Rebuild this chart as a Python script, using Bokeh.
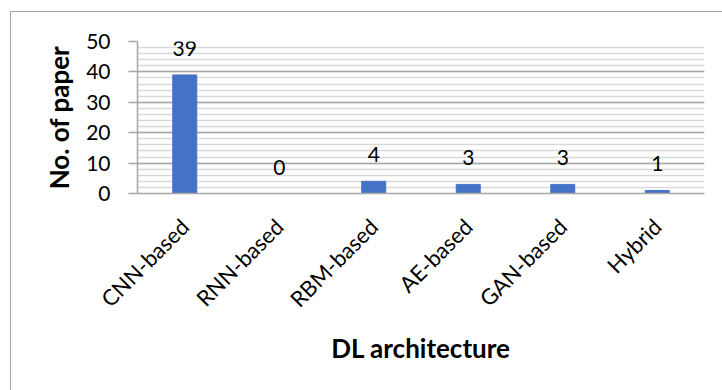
import math
from bokeh.plotting import figure
from bokeh.models import ColumnDataSource, SingleIntervalTicker, LabelSet
from bokeh.core.properties import value
from bokeh.embed import file_html
from bokeh.resources import INLINE

categories = ["CNN-based", "RNN-based", "RBM-based", "AE-based", "GAN-based", "Hybrid"]
papers = [39, 0, 4, 3, 3, 1]

FONT = "Lato"
source = ColumnDataSource(dict(cat=categories, n=papers, lbl=[str(v) for v in papers]))

p = figure(x_range=categories, y_range=(0, 50), width=711, height=378,
           output_backend="svg", toolbar_location=None,
           min_border_left=126, min_border_right=18, min_border_top=29, min_border_bottom=197,
           margin=(11, 0, 0, 10))
p.frame_width = 567
p.frame_height = 152
p.styles = {"border-left": "1px solid #a6a6a6", "border-top": "1px solid #a6a6a6"}
p.outline_line_color = None
p.background_fill_color = "white"
p.border_fill_color = "white"

p.vbar(x="cat", top="n", width=0.254, source=source, color="#4472C4")

labels = LabelSet(x="cat", y="n", text="lbl", source=source, text_align="center",
                  text_baseline="alphabetic", y_offset=19, text_font=value(FONT),
                  text_font_size="21px", text_color="black")
p.add_layout(labels)

# y axis
p.yaxis.ticker = SingleIntervalTicker(interval=10, num_minor_ticks=5)
p.yaxis.axis_label = "No. of paper"
p.yaxis.axis_label_text_font = FONT
p.yaxis.axis_label_text_font_style = "bold"
p.yaxis.axis_label_text_font_size = "26px"
p.yaxis.axis_label_text_color = "black"
p.yaxis.axis_label_standoff = 8
p.yaxis.major_label_text_font = FONT
p.yaxis.major_label_text_font_size = "21px"
p.yaxis.major_label_text_color = "black"
p.yaxis.major_label_standoff = 18
p.yaxis.major_tick_out = 9
p.yaxis.major_tick_in = 0
p.yaxis.minor_tick_line_color = None
p.yaxis.axis_line_color = "#a6a6a6"
p.yaxis.major_tick_line_color = "#a6a6a6"
p.yaxis.axis_line_width = 1.5
p.yaxis.major_tick_line_width = 1.5

# x axis
p.xaxis.axis_label = "DL architecture"
p.xaxis.axis_label_text_font = FONT
p.xaxis.axis_label_text_font_style = "bold"
p.xaxis.axis_label_text_font_size = "26px"
p.xaxis.axis_label_text_color = "black"
p.xaxis.axis_label_standoff = 7
p.xaxis.major_label_orientation = math.pi / 4
p.xaxis.major_label_text_font = FONT
p.xaxis.major_label_text_font_size = "22px"
p.xaxis.major_label_text_color = "black"
p.xaxis.major_label_standoff = 29
p.xaxis.major_tick_line_color = None
p.xaxis.major_tick_out = 0
p.xaxis.axis_line_color = "#a6a6a6"
p.xaxis.axis_line_width = 1.5

# grid
p.xgrid.grid_line_color = None
p.ygrid.grid_line_color = "#a6a6a6"
p.ygrid.grid_line_width = 1.5
p.ygrid.minor_grid_line_color = "#d9d9d9"
p.ygrid.minor_grid_line_width = 1.5

open("out.html", "w").write(file_html(p, INLINE))
